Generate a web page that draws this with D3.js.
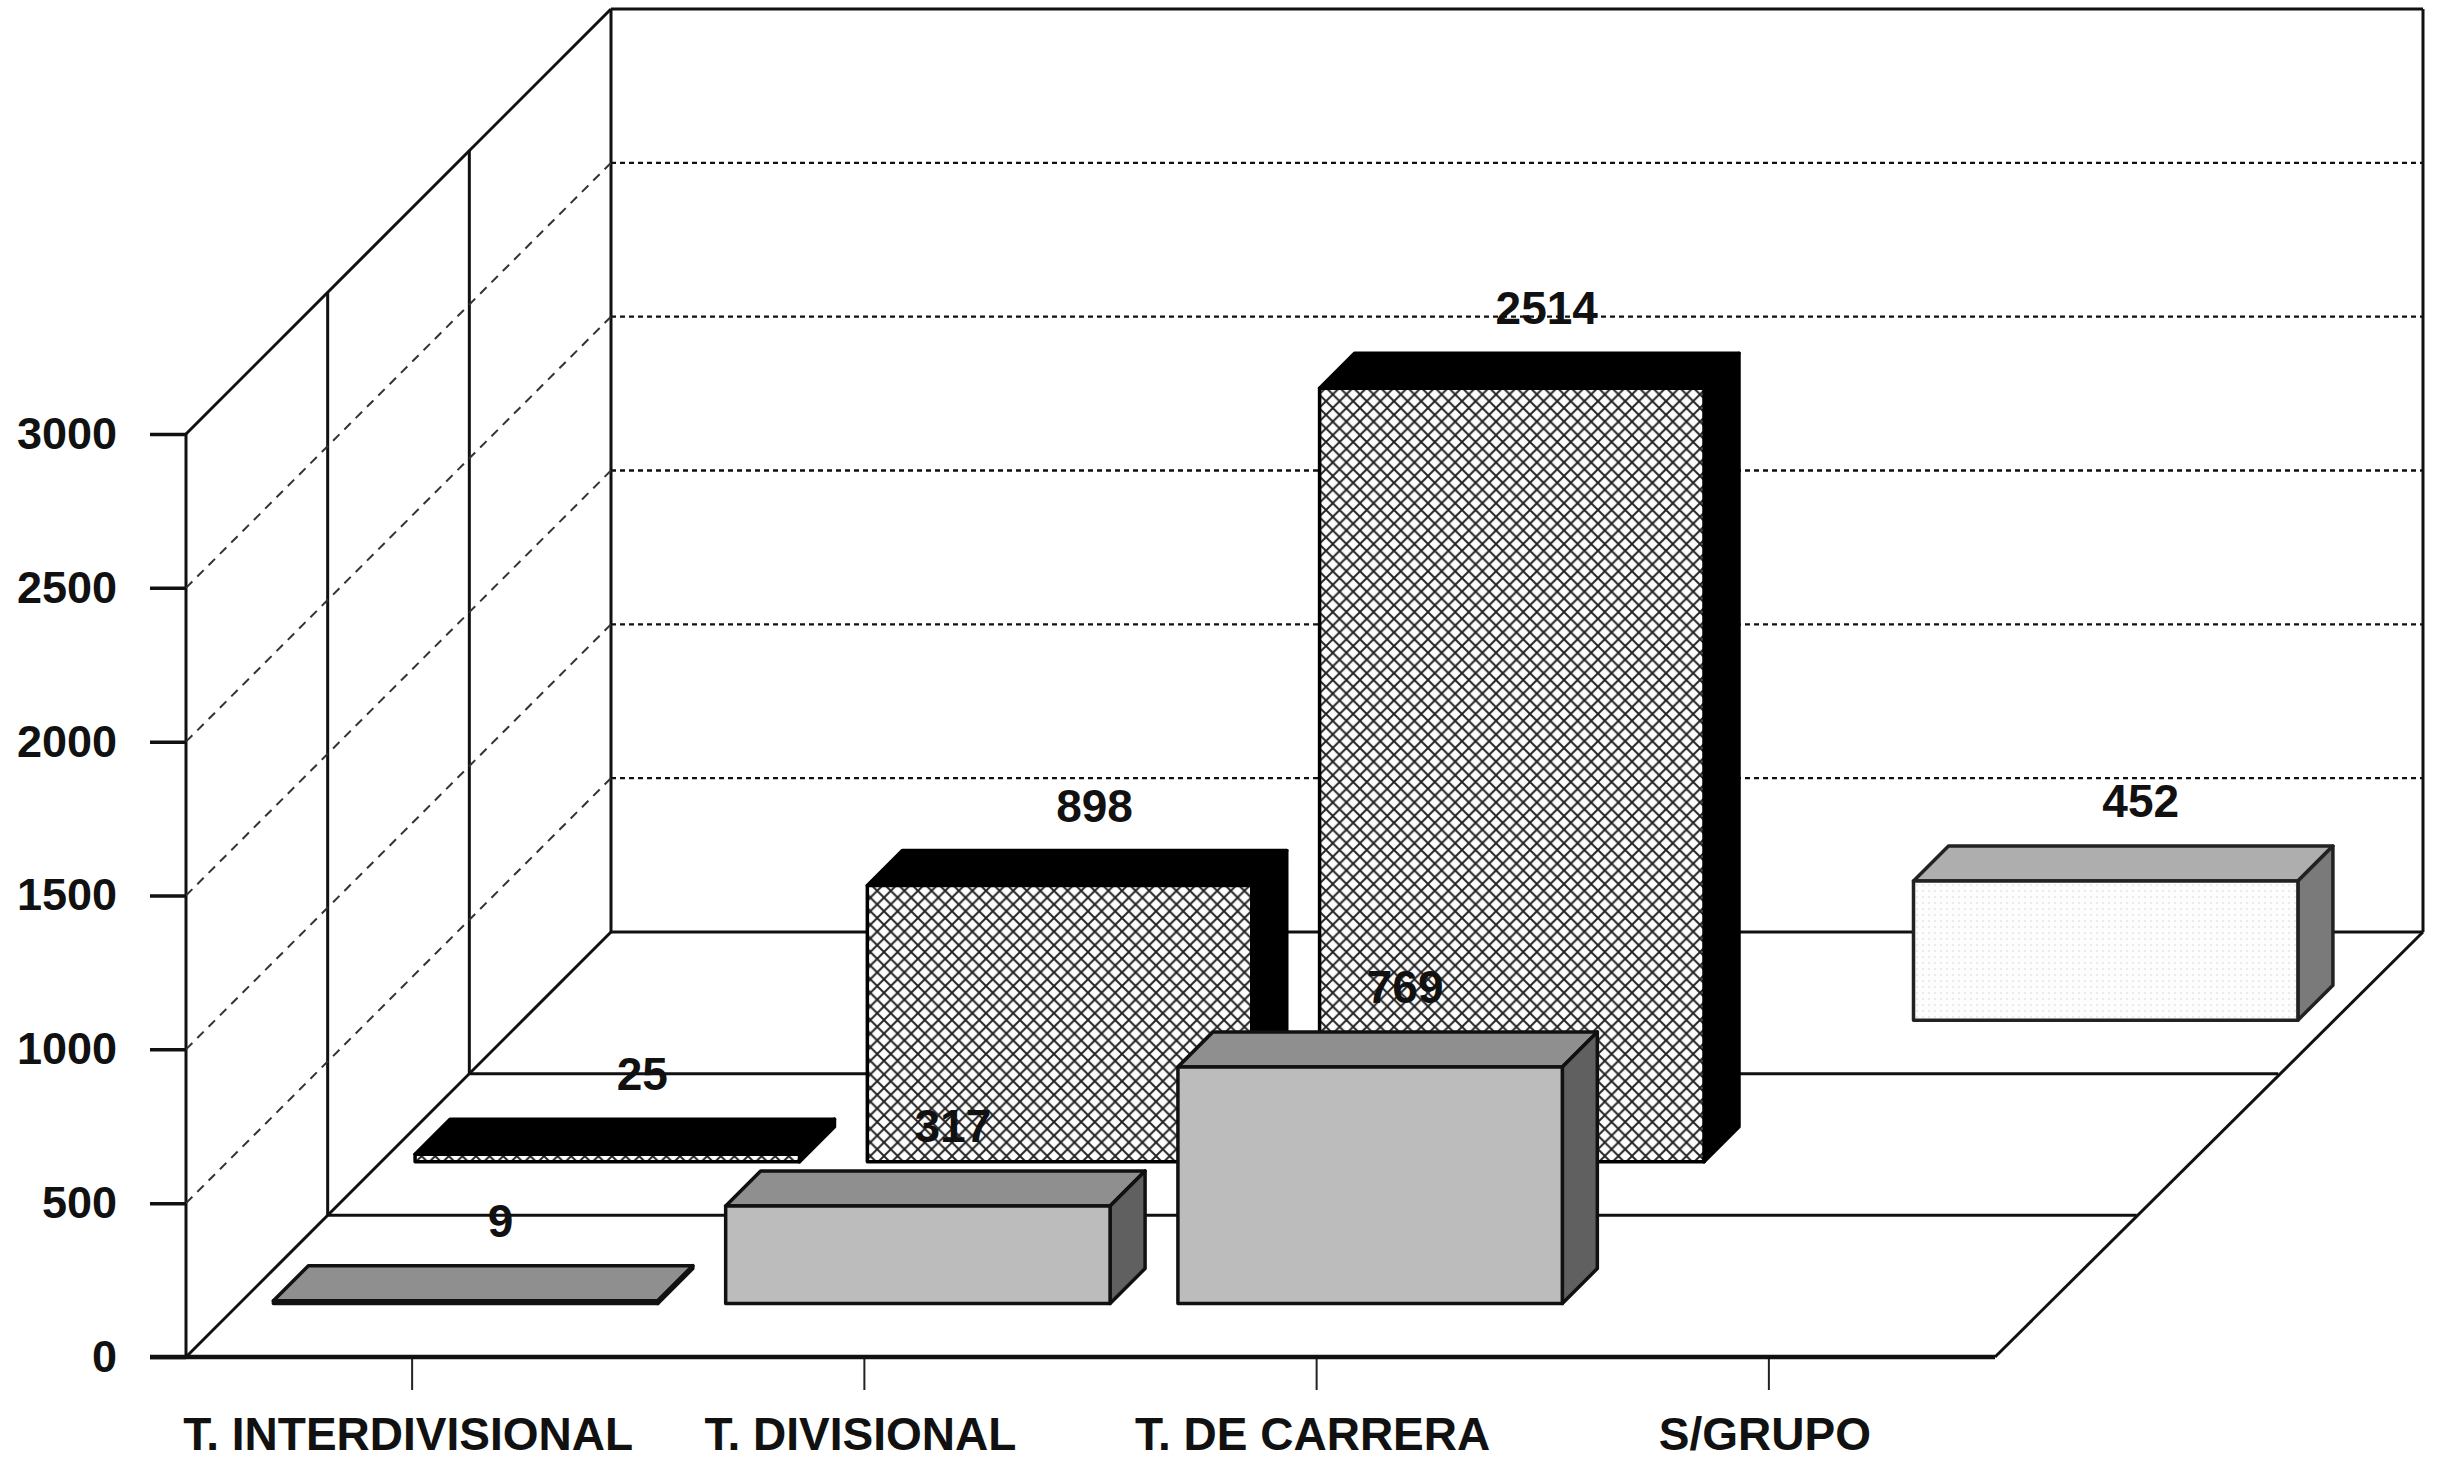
<!DOCTYPE html>
<html>
<head>
<meta charset="utf-8">
<script src="https://cdn.jsdelivr.net/npm/d3@7"></script>
<style>
  html, body { margin: 0; background: #fff; }
  text { font-family: 'Liberation Sans', Arial, sans-serif; font-weight: bold; fill: #111; }
</style>
</head>
<body>
<svg id="container" width="2437" height="1460"></svg>
<script>
const categories = ['T. INTERDIVISIONAL', 'T. DIVISIONAL', 'T. DE CARRERA', 'S/GRUPO']
const yTicks = [0, 500, 1000, 1500, 2000, 2500, 3000]

// rows run from the front of the floor to the back
const frontValues = [9, 317, 769, null]
const middleValues = [25, 898, 2514, null]
const backValues = [null, null, null, 452]

const rows = [
  { values: backValues, row: 2, front: 'url(#dots)', top: '#aeaeae', side: '#7a7a7a', line: '#222' },
  { values: middleValues, row: 1, front: 'url(#hatch)', top: '#000', side: '#000', line: '#000' },
  { values: frontValues, row: 0, front: '#bcbcbc', top: '#8f8f8f', side: '#606060', line: '#111' }
]

const svg = d3.select('#container')

const x0 = 186
const x1 = 1995
const floorY = 1357
const wallDepth = 425
const rowCount = 3
const barInset = 53.5
const barDepth = 35

const y = d3.scaleLinear().domain([0, 3000]).range([floorY, 434])
const x = d3.scaleBand().domain(categories).range([x0, x1]).paddingInner(0.15).paddingOuter(0.075)
const depth = d3.scaleLinear().domain([0, rowCount]).range([0, wallDepth])

const wallTop = y(3000) - wallDepth
const wallBottom = floorY - wallDepth

const defs = svg.append('defs')
const hatch = defs.append('pattern')
  .attr('id', 'hatch')
  .attr('width', 13.6)
  .attr('height', 13.6)
  .attr('patternUnits', 'userSpaceOnUse')
hatch.append('rect').attr('width', 13.6).attr('height', 13.6).attr('fill', '#fdfdfd')
hatch.append('path')
  .attr('d', 'M0,0L13.6,13.6M13.6,0L0,13.6')
  .attr('stroke', '#222')
  .attr('stroke-width', 1.9)
const dots = defs.append('pattern')
  .attr('id', 'dots')
  .attr('width', 6)
  .attr('height', 6)
  .attr('patternUnits', 'userSpaceOnUse')
dots.append('rect').attr('width', 6).attr('height', 6).attr('fill', '#fdfdfd')
dots.append('circle').attr('cx', 3).attr('cy', 3).attr('r', 1).attr('fill', '#e6e6e6')

// walls and floor
const frame = svg.append('g').attr('fill', 'none').attr('stroke', '#111').attr('stroke-width', 3)

function addLine(g, ax, ay, bx, by) {
  return g.append('line').attr('x1', ax).attr('y1', ay).attr('x2', bx).attr('y2', by)
}

// dashed grid on both walls
const grid = svg.append('g').attr('fill', 'none')
yTicks.filter((d) => d > 0 && d < 3000).forEach((d) => {
  addLine(grid, x0, y(d), x0 + wallDepth, y(d) - wallDepth)
    .attr('stroke', '#333')
    .attr('stroke-width', 2)
    .attr('stroke-dasharray', '9 7')
  addLine(grid, x0 + wallDepth, y(d) - wallDepth, x0 + wallDepth + (x1 - x0) + 3, y(d) - wallDepth)
    .attr('stroke', '#111')
    .attr('stroke-width', 2.4)
    .attr('stroke-dasharray', '5 4')
})

addLine(frame, x0 + wallDepth, wallBottom, x0 + wallDepth, wallTop)
addLine(frame, x0 + wallDepth, wallTop, x1 + wallDepth + 3, wallTop)
addLine(frame, x1 + wallDepth + 3, wallTop, x1 + wallDepth + 3, wallBottom)
addLine(frame, x0, floorY, x0, y(3000))
addLine(frame, x0, y(3000), x0 + wallDepth, wallTop)
addLine(frame, x0, floorY, x0 + wallDepth, wallBottom)
addLine(frame, x0 + wallDepth, wallBottom, x1 + wallDepth + 3, wallBottom)
addLine(frame, x1, floorY, x1 + wallDepth + 3, wallBottom)

// row dividers on the floor and the left wall
d3.range(1, rowCount).forEach((r) => {
  const d = depth(r)
  addLine(frame, x0 + d, floorY - d, x0 + d, y(3000) - d)
  addLine(frame, x0 + d, floorY - d, x1 + d, floorY - d)
})

// bars
const barG = svg.append('g').attr('stroke-width', 3.5).attr('stroke-linejoin', 'round')

const labels = []
rows.forEach((s) => {
  const offset = depth(s.row) + barInset
  categories.forEach((c, i) => {
    const v = s.values[i]
    if (v === null) return
    const left = x(c) + offset
    const right = left + x.bandwidth()
    const base = floorY - offset
    const top = base - (floorY - y(v))
    const g = barG.append('g').attr('stroke', s.line)
    g.append('polygon')
      .attr('points', [[left, top], [right, top], [right + barDepth, top - barDepth], [left + barDepth, top - barDepth]].join(' '))
      .attr('fill', s.top)
    g.append('polygon')
      .attr('points', [[right, base], [right, top], [right + barDepth, top - barDepth], [right + barDepth, base - barDepth]].join(' '))
      .attr('fill', s.side)
    g.append('rect')
      .attr('x', left)
      .attr('y', top)
      .attr('width', x.bandwidth())
      .attr('height', base - top)
      .attr('fill', s.front)
    labels.push({ v, x: left + x.bandwidth() / 2 + barDepth, y: top - barDepth - 45 })
  })
})

// value labels
svg.append('g')
  .selectAll('text')
  .data(labels)
  .enter()
  .append('text')
  .attr('x', (d) => d.x)
  .attr('y', (d) => d.y)
  .attr('text-anchor', 'middle')
  .attr('dominant-baseline', 'central')
  .attr('font-size', 46)
  .text((d) => d.v)

// axes
const yAxis = svg.append('g')
  .attr('transform', `translate(${x0},0)`)
  .call(d3.axisLeft(y).tickValues(yTicks).tickFormat((d) => d).tickSize(36).tickPadding(33).tickSizeOuter(0))
yAxis.select('.domain').remove()
yAxis.selectAll('line').attr('stroke', '#111').attr('stroke-width', 3.5)
yAxis.selectAll('text').attr('font-size', 45).attr('fill', '#111')

const xAxis = svg.append('g')
  .attr('transform', `translate(0,${floorY})`)
  .call(d3.axisBottom(x).tickSize(33).tickPadding(27).tickSizeOuter(0))
xAxis.select('.domain').remove()
xAxis.selectAll('line').attr('stroke', '#222').attr('stroke-width', 2)
xAxis.selectAll('text').attr('font-size', 46).attr('fill', '#111').attr('dx', -4)

addLine(svg, x0 - 36, floorY, x1, floorY).attr('stroke', '#111').attr('stroke-width', 4.5)
</script>
</body>
</html>
